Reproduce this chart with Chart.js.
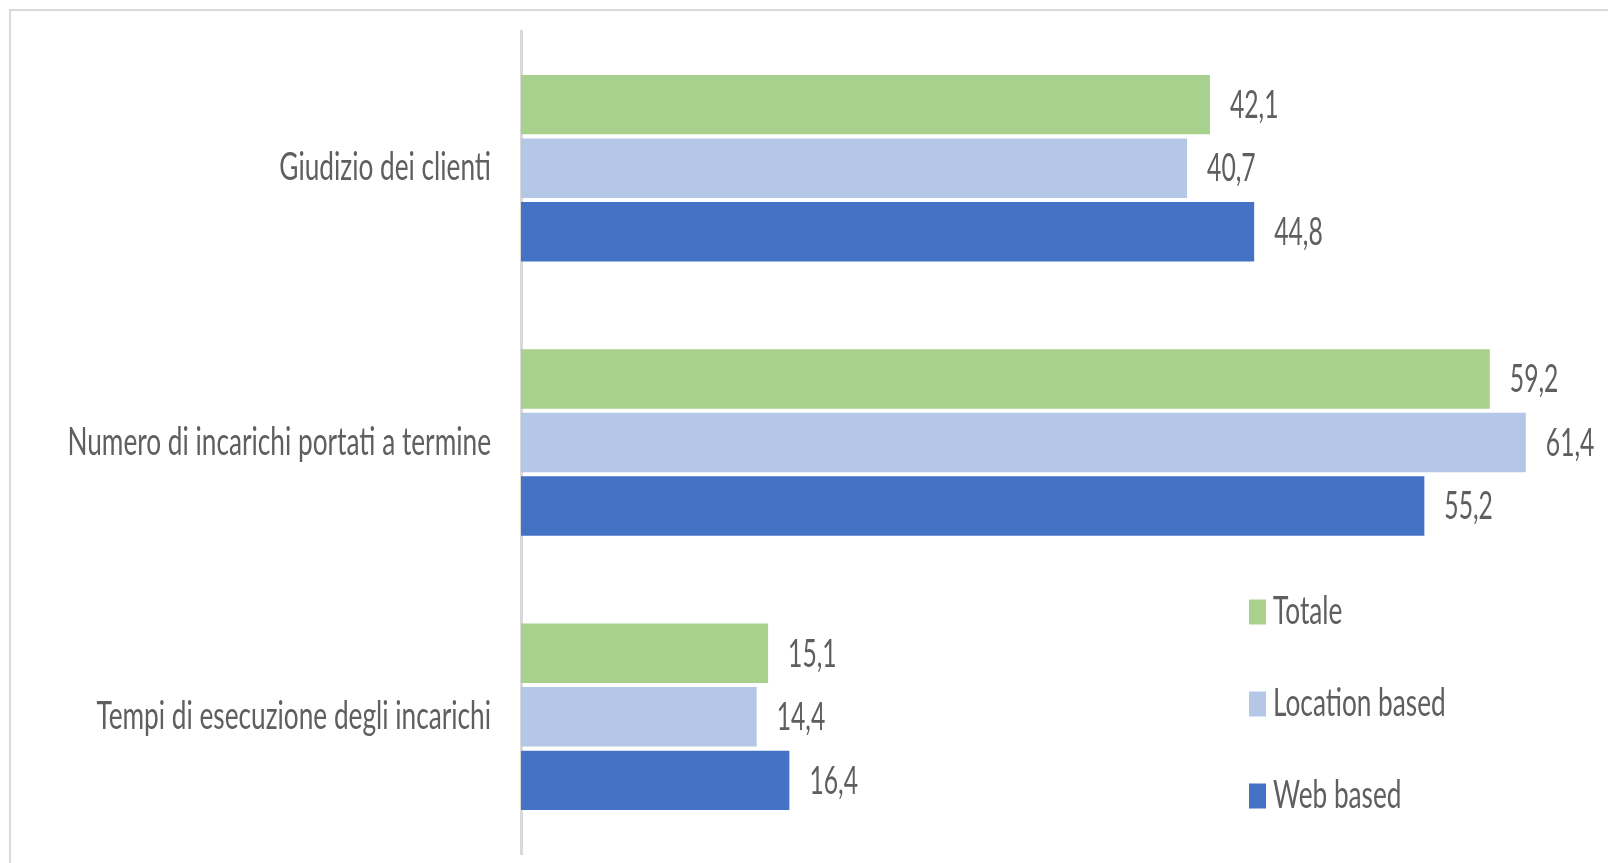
<!DOCTYPE html>
<html><head><meta charset="utf-8">
<script src="https://cdn.jsdelivr.net/npm/chart.js@4/dist/chart.umd.min.js"></script>
<style>html,body{margin:0;padding:0;background:#fff;overflow:hidden}#wrap{width:1608px;height:863px;position:relative}</style>
</head><body><div id="wrap"><canvas id="c" width="1608" height="863"></canvas></div>
<script>
const categories = ["Giudizio dei clienti", "Numero di incarichi portati a termine", "Tempi di esecuzione degli incarichi"];
const seriesNames = ["Totale", "Location based", "Web based"];
const totale = [42.1, 59.2, 15.1];
const locationBased = [40.7, 61.4, 14.4];
const webBased = [44.8, 55.2, 16.4];
const seriesColors = ["#A9D18E", "#B4C7E7", "#4472C4"];

const TEXT_COLOR = "#5f5f5f";
const FONT = "38px Lato";
const SX_TEXT = 0.69;
const SX_NUM = 0.65;

function squishText(ctx, text, x, y, align, sx) {
  ctx.save();
  ctx.translate(x, y);
  ctx.scale(sx, 1);
  ctx.font = FONT;
  ctx.fillStyle = TEXT_COLOR;
  ctx.textAlign = align;
  ctx.textBaseline = "middle";
  ctx.fillText(text, 0, 0);
  ctx.restore();
}

const decorPlugin = {
  id: "decor",
  beforeDraw(chart) {
    const ctx = chart.ctx;
    ctx.save();
    ctx.fillStyle = "#ffffff";
    ctx.fillRect(0, 0, chart.width, chart.height);
    ctx.strokeStyle = "#d9d9d9";
    ctx.lineWidth = 2;
    ctx.strokeRect(10, 10, 3000, 3000);
    ctx.restore();
  },
  afterDatasetsDraw(chart) {
    const ctx = chart.ctx;
    // category labels
    const yScale = chart.scales.y;
    chart.data.labels.forEach((lab, i) => {
      const y = yScale.getPixelForTick(i);
      squishText(ctx, lab, chart.chartArea.left - 30, y, "right", SX_TEXT);
    });
    // value labels
    chart.data.datasets.forEach((ds, di) => {
      const meta = chart.getDatasetMeta(di);
      meta.data.forEach((el, i) => {
        const txt = ds.data[i].toFixed(1).replace(".", ",");
        squishText(ctx, txt, el.x + 20, el.y + 1, "left", SX_NUM);
      });
    });
    // legend
    const lx = 1249, ly0 = 612, step = 92;
    chart.data.datasets.forEach((ds, di) => {
      const cy = ly0 + di * step;
      ctx.save();
      ctx.fillStyle = ds.backgroundColor;
      ctx.fillRect(lx, cy - 12.5, 17, 25);
      ctx.restore();
      squishText(ctx, ds.label, lx + 24, cy, "left", SX_TEXT);
    });
  }
};

new Chart(document.getElementById("c"), {
  type: "bar",
  data: {
    labels: categories,
    datasets: [
      { label: seriesNames[0], data: totale, backgroundColor: seriesColors[0] },
      { label: seriesNames[1], data: locationBased, backgroundColor: seriesColors[1] },
      { label: seriesNames[2], data: webBased, backgroundColor: seriesColors[2] }
    ]
  },
  options: {
    indexAxis: "y",
    responsive: false,
    animation: false,
    devicePixelRatio: 1,
    datasets: { bar: { categoryPercentage: 0.695, barPercentage: 0.935, borderWidth: 0 } },
    layout: { padding: { left: 521, top: 31, bottom: 9, right: 20 } },
    scales: {
      x: { display: false, min: 0, max: 65.2 },
      y: {
        display: true,
        grid: { display: false, drawTicks: false },
        border: { display: true, color: "#d9d9d9", width: 3 },
        ticks: { display: false }
      }
    },
    plugins: { legend: { display: false }, tooltip: { enabled: false } }
  },
  plugins: [decorPlugin]
});
</script></body></html>
